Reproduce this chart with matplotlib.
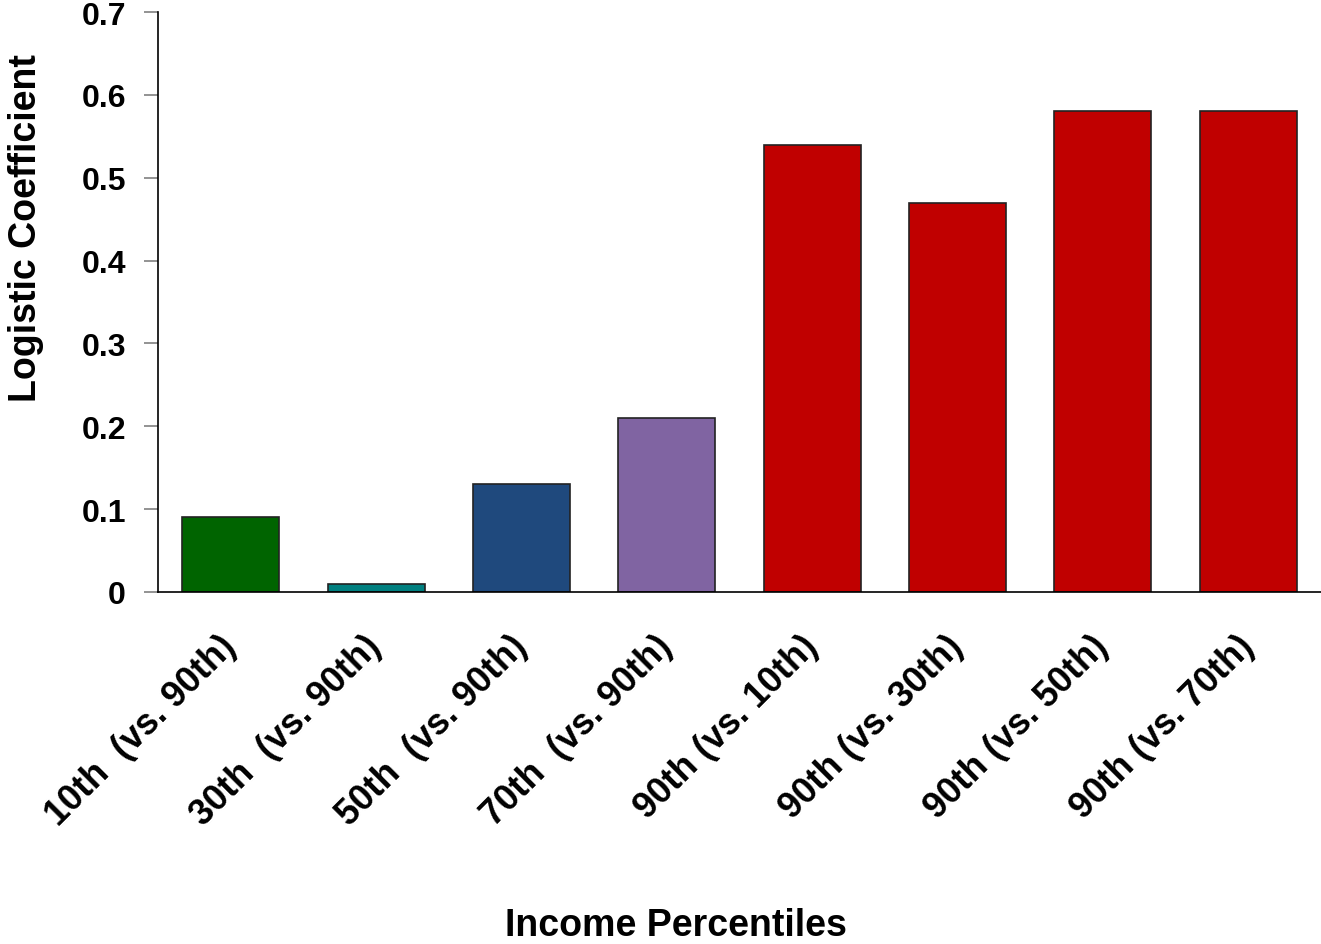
import matplotlib
matplotlib.use("Agg")
import matplotlib.pyplot as plt

# data
labels = ["10th  (vs. 90th)", "30th  (vs. 90th)", "50th  (vs. 90th)", "70th  (vs. 90th)",
          "90th (vs. 10th)", "90th (vs. 30th)", "90th (vs. 50th)", "90th (vs. 70th)"]
coefs = [0.09, 0.01, 0.13, 0.21, 0.54, 0.47, 0.58, 0.58]
colors = ["#006400", "#008080", "#1F497D", "#8064A2",
          "#C00000", "#C00000", "#C00000", "#C00000"]
yticks = [0, 0.1, 0.2, 0.3, 0.4, 0.5, 0.6, 0.7]
ytick_labels = ["0", "0.1", "0.2", "0.3", "0.4", "0.5", "0.6", "0.7"]

plt.rcParams['font.family'] = ['Liberation Sans', 'DejaVu Sans']
plt.rcParams['font.weight'] = 'bold'

fig = plt.figure(figsize=(13.21, 9.45), dpi=100)
ax = fig.add_axes([0.1196, 0.3725, 0.8804, 0.6137])

x_pos = list(range(len(labels)))
ax.bar(x_pos, coefs, width=0.667, color=colors, edgecolor="#222222", linewidth=1.2)

ax.set_xlim(-0.5, len(labels) - 0.5)
ax.set_ylim(0, 0.7)
ax.set_yticks(yticks)
ax.set_yticklabels(ytick_labels, fontsize=23, fontweight='bold')
ax.set_xticks(x_pos)
ax.set_xticklabels(labels, fontsize=26, fontweight='bold', rotation=45,
                   ha='right', va='center', rotation_mode='anchor')
ax.tick_params(axis='x', length=0, pad=35)
ax.tick_params(axis='y', direction='out', length=10, width=1.2, pad=13,
               color='#808080')

for s in ['top', 'right']:
    ax.spines[s].set_visible(False)
ax.spines['left'].set_linewidth(1.2)
ax.spines['bottom'].set_linewidth(1.2)

fig.text(0.0197, 0.7585, 'Logistic Coefficient', fontsize=27, fontweight='bold',
         rotation=90, ha='center', va='center')
fig.text(0.512, 0.01, 'Income Percentiles', fontsize=27, fontweight='bold',
         ha='center', va='baseline')

plt.savefig("out.png", dpi=100)
